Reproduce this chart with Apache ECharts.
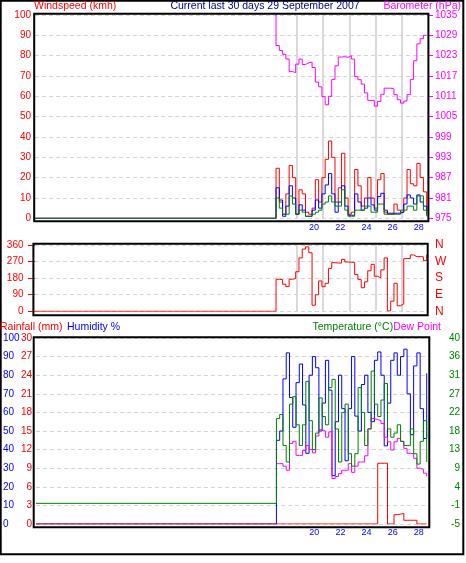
<!DOCTYPE html>
<html><head><meta charset="utf-8">
<script src="https://cdn.jsdelivr.net/npm/echarts@6/dist/echarts.min.js"></script>
<style>html,body{margin:0;padding:0;background:#fff}#c{width:466px;height:563px}</style>
</head><body><div id="c"></div>
<script>
// ---- time frame (days of September 2007) ----
const axisStartDay = -1.3;
const axisEndDay = 28.7;
const firstSampleDay = 17.1;
const sampleStepDays = 0.25;
const dayLabels = [20, 22, 24, 26, 28];
const markerDays = [18.7, 20.7, 22.7, 24.7, 26.7];

// ---- top panel: wind (km/h) and barometer (hPa) ----
const windGust = [24.6, 8, 2, 12, 26, 20, 2, 14, 12, 3, 2, 5, 19, 8, 20, 29, 38, 30, 8, 15, 32, 10, 2, 3, 24, 16, 6, 10, 20, 10, 5, 19, 22, 3, 2, 2, 7, 4, 3, 10, 24, 17, 16, 27, 20, 13, 3];
const windAverage = [15, 9, 1, 6, 16, 10, 2, 6.6, 4, 1, 1, 4, 9, 5, 12, 16.4, 22, 12, 3, 8, 16, 6, 1.5, 1.5, 12, 8, 4, 5, 10, 6.6, 4, 10.7, 12.3, 4, 2.5, 2.5, 2.5, 2.5, 3, 7, 11.5, 10, 7, 11.5, 8, 6, 2];
const windSpeed = [10, 5, 2, 2, 11, 7, 2, 4, 3, 1, 1, 2, 3, 4, 7, 8, 11, 8, 6, 6, 14, 4, 1, 1, 4, 4, 4, 6, 6, 3, 3, 7, 7, 2, 2, 2, 2, 2, 4, 4, 6, 6, 4, 11, 11, 4, 1];
const barometer = [1036, 1026, 1024.5, 1023.4, 1022, 1018.3, 1018, 1020.5, 1022, 1020.4, 1020.9, 1021.1, 1019.5, 1015.2, 1013.8, 1010.9, 1008.5, 1011, 1016, 1020, 1022.6, 1022.7, 1022.5, 1023, 1022, 1016.8, 1015.9, 1014.6, 1012, 1009.8, 1009.8, 1008.1, 1009.5, 1011.6, 1013.4, 1013.4, 1013.2, 1011.5, 1010, 1009, 1009.6, 1011.5, 1016, 1021.5, 1026.5, 1028, 1029];
const baroTicks = [975, 981, 987, 993, 999, 1005, 1011, 1017, 1023, 1029, 1035];

// ---- middle panel: wind direction (degrees) ----
const windDirection = [174, 172, 147, 134, 174, 178, 215, 290, 338, 350, 318, 33, 90, 165, 134, 152, 233, 264, 262, 262, 282, 268, 266, 266, 200, 172, 128, 160, 220, 255, 190, 182, 225, 290, 2, 55, 152, 30, 40, 286, 287, 306, 297, 297, 296, 275, 308];
const compassNames = {0: 'N', 90: 'E', 180: 'S', 270: 'W', 360: 'N'};

// ---- bottom panel: humidity (%), temperature / dew point (°C), rainfall (mm) ----
const humidity = [45, 50, 78, 92, 68, 52, 76, 86, 64, 38, 80, 90, 84, 50, 65, 88, 72, 26, 55, 80, 62, 34, 62, 90, 58, 50, 75, 80, 60, 55, 88, 92.5, 80, 42, 65, 88, 92, 80, 90, 94, 70, 48, 85, 92, 62, 46, 81];
const temperature = [20.5, 21.5, 14, 10, 24, 25.8, 19, 14, 19, 29.5, 20, 13, 17, 25.5, 21, 19, 28, 30, 18, 10, 22, 24, 12, 9, 12, 28, 22, 14, 18, 32, 24, 21, 25, 29, 18, 16, 17, 19, 15, 14, 14, 18, 12, 9.5, 15, 20, 10];
const dewPoint = [9.6, 9.6, 9, 8, 14.5, 15, 11.6, 11.6, 12.8, 14, 13, 12.2, 16.3, 17.8, 17.5, 16, 17.3, 6, 6.5, 7.2, 8, 8, 9.6, 7.5, 9, 10, 10, 11.5, 18, 20.5, 20.3, 20, 19.3, 16, 14.9, 12.9, 14.9, 15.7, 15, 13.3, 12.1, 12, 10.9, 8.5, 8.2, 7.3, 6.5];
const rainfall = [0, 0, 0, 0, 0, 0, 0, 0, 0, 0, 0, 0, 0, 0, 0, 0, 0, 0, 0, 0, 0, 0, 0, 0, 0, 0, 0, 0, 0, 0, 0, 9.8, 9.8, 9.8, 0, 0, 1.5, 1.6, 1.7, 0.6, 0.6, 0.6, 0.6, 0, 0, 0, 0];
const tempTicks = [-5, -0.5, 4, 8.5, 13, 17.5, 22, 26.5, 31, 35.5, 40];

// value shown before the station started logging
const idleValue = 0;

// ---- styling ----
const FONT = '"Liberation Sans", Arial, sans-serif';
const RED = '#ff0000', BLUE = '#0000ff', GREEN = '#008000', MAGENTA = '#ff00ff', NAVY = '#000080';
const gridDash = {color: '#d4d4d4', type: [4, 3], width: 1};
const noLine = {show: false, onZero: false};

const sampleDays = windGust.map((_, i) => +(firstSampleDay + i * sampleStepDays).toFixed(3));
function pts(values, lead) {
  const out = [];
  if (lead !== undefined) out.push([axisStartDay, lead]);
  values.forEach((v, i) => out.push([sampleDays[i], v]));
  return out;
}
function roundAway(v) { return v < 0 ? -Math.round(-v) : Math.round(v); }

function xAxis(gridIndex, showLabels, margin) {
  return {
    type: 'value', gridIndex, min: axisStartDay, max: axisEndDay,
    axisLine: noLine, axisTick: {show: false}, splitLine: {show: false},
    axisLabel: showLabels ? {show: true, customValues: dayLabels, color: BLUE, fontSize: 9, fontFamily: FONT, margin} : {show: false}
  };
}
function lineSeries(name, data, color, xi, yi, step, extra) {
  return Object.assign({
    name, type: 'line', data, xAxisIndex: xi, yAxisIndex: yi, step,
    symbol: 'none', showSymbol: false, animation: false, silent: true,
    lineStyle: {color, width: 1}, itemStyle: {color}
  }, extra || {});
}
const markers = {
  silent: true, symbol: ['none', 'none'], label: {show: false}, z: 1, animation: false,
  lineStyle: {color: '#d9d9d9', width: 2, type: 'solid'},
  emphasis: {disabled: true},
  data: markerDays.map(d => ({xAxis: d}))
};

const chart = echarts.init(document.getElementById('c'));
chart.setOption({
  animation: false,
  grid: [
    {left: 35, top: 15, width: 393, height: 203.3},
    {left: 35, top: 245, width: 393, height: 66.3},
    {left: 35, top: 338, width: 393, height: 186}
  ],
  xAxis: [xAxis(0, true, 5), xAxis(1, false, 0), xAxis(2, true, 4)],
  yAxis: [
    {type: 'value', gridIndex: 0, position: 'left', min: 0, max: 100, interval: 10,
     axisLine: noLine, axisTick: {show: false}, splitLine: {show: true, lineStyle: gridDash},
     axisLabel: {color: RED, fontSize: 10, fontFamily: FONT, margin: 4}},
    {type: 'value', gridIndex: 0, position: 'right', min: 975, max: 1035,
     axisLine: noLine, splitLine: {show: false},
     axisTick: {show: true, customValues: baroTicks, length: 5, lineStyle: {color: MAGENTA}},
     axisLabel: {customValues: baroTicks, color: MAGENTA, fontSize: 10, fontFamily: FONT, margin: 7, formatter: v => String(v)}},
    {type: 'value', gridIndex: 1, position: 'left', min: 0, max: 360, interval: 90,
     axisLine: noLine, splitLine: {show: true, lineStyle: gridDash},
     axisTick: {show: true, length: 7, lineStyle: {color: RED}},
     axisLabel: {color: RED, fontSize: 10, fontFamily: FONT, margin: 11.5}},
    {type: 'value', gridIndex: 1, position: 'right', min: 0, max: 360, interval: 90,
     axisLine: noLine, axisTick: {show: false}, splitLine: {show: false},
     axisLabel: {color: RED, fontSize: 12, fontFamily: FONT, margin: 7, formatter: v => compassNames[v] || ''}},
    {type: 'value', gridIndex: 2, position: 'left', min: 0, max: 100, interval: 10,
     axisLine: noLine, axisTick: {show: false}, splitLine: {show: true, lineStyle: gridDash},
     axisLabel: {color: BLUE, fontSize: 10, fontFamily: FONT, margin: 33, align: 'left'}},
    {type: 'value', gridIndex: 2, position: 'left', min: 0, max: 30, interval: 3,
     axisLine: noLine, axisTick: {show: false}, splitLine: {show: false},
     axisLabel: {color: RED, fontSize: 10, fontFamily: FONT, margin: 4}},
    {type: 'value', gridIndex: 2, position: 'right', min: -5, max: 40,
     axisLine: noLine, axisTick: {show: false}, splitLine: {show: false},
     axisLabel: {customValues: tempTicks, color: GREEN, fontSize: 10, fontFamily: FONT, margin: 32, align: 'right', formatter: v => String(roundAway(v))}}
  ],
  series: [
    lineSeries('Wind gust', pts(windGust, idleValue), RED, 0, 0, 'end', {markLine: markers}),
    lineSeries('Wind average', pts(windAverage, idleValue), BLUE, 0, 0, 'end'),
    lineSeries('Wind speed', pts(windSpeed, idleValue), GREEN, 0, 0, 'end'),
    lineSeries('Barometer', pts(barometer), MAGENTA, 0, 1, 'start'),
    lineSeries('Wind direction', pts(windDirection, idleValue), RED, 1, 2, 'end', {markLine: markers}),
    lineSeries('Humidity', pts(humidity, idleValue), BLUE, 2, 4, 'end'),
    lineSeries('Dew Point', pts(dewPoint), MAGENTA, 2, 6, 'end'),
    lineSeries('Temperature', pts(temperature, idleValue), GREEN, 2, 6, 'end'),
    lineSeries('Rainfall', pts(rainfall, idleValue), RED, 2, 5, 'end')
  ],
  graphic: [
    {type: 'rect', z: 100, silent: true, shape: {x: 0.7, y: 0.7, width: 462.6, height: 553.6}, style: {fill: 'none', stroke: '#000', lineWidth: 2}},
    {type: 'rect', z: 100, silent: true, shape: {x: 34.2, y: 13.7, width: 394.2, height: 207.6}, style: {fill: 'none', stroke: '#000', lineWidth: 2}},
    {type: 'rect', z: 100, silent: true, shape: {x: 33.4, y: 243.7, width: 394.3, height: 71.6}, style: {fill: 'none', stroke: '#000', lineWidth: 2}},
    {type: 'rect', z: 100, silent: true, shape: {x: 33.7, y: 337.3, width: 395.6, height: 190}, style: {fill: 'none', stroke: '#000', lineWidth: 2}},
    {type: 'text', z: 100, silent: true, style: {x: 34, y: 6.5, text: 'Windspeed (kmh)', fill: RED, font: '10.5px ' + FONT, align: 'left', verticalAlign: 'middle'}},
    {type: 'text', z: 100, silent: true, style: {x: 265, y: 6.5, text: 'Current last 30 days 29 September 2007', fill: NAVY, font: '10.5px ' + FONT, align: 'center', verticalAlign: 'middle'}},
    {type: 'text', z: 100, silent: true, style: {x: 461, y: 6.5, text: 'Barometer (hPa)', fill: MAGENTA, font: '10.5px ' + FONT, align: 'right', verticalAlign: 'middle'}},
    {type: 'text', z: 100, silent: true, style: {x: 0, y: 327.5, text: 'Rainfall (mm)', fill: RED, font: '10.5px ' + FONT, align: 'left', verticalAlign: 'middle'}},
    {type: 'text', z: 100, silent: true, style: {x: 67, y: 327.5, text: 'Humidity %', fill: BLUE, font: '10.5px ' + FONT, align: 'left', verticalAlign: 'middle'}},
    {type: 'text', z: 100, silent: true, style: {x: 441, y: 327.5, text: '{t|Temperature (°C)}{d|Dew Point}', font: '10.5px ' + FONT, align: 'right', verticalAlign: 'middle',
      rich: {t: {fill: GREEN, font: '10.5px ' + FONT}, d: {fill: MAGENTA, font: '10.5px ' + FONT}}}}
  ]
});
</script></body></html>
